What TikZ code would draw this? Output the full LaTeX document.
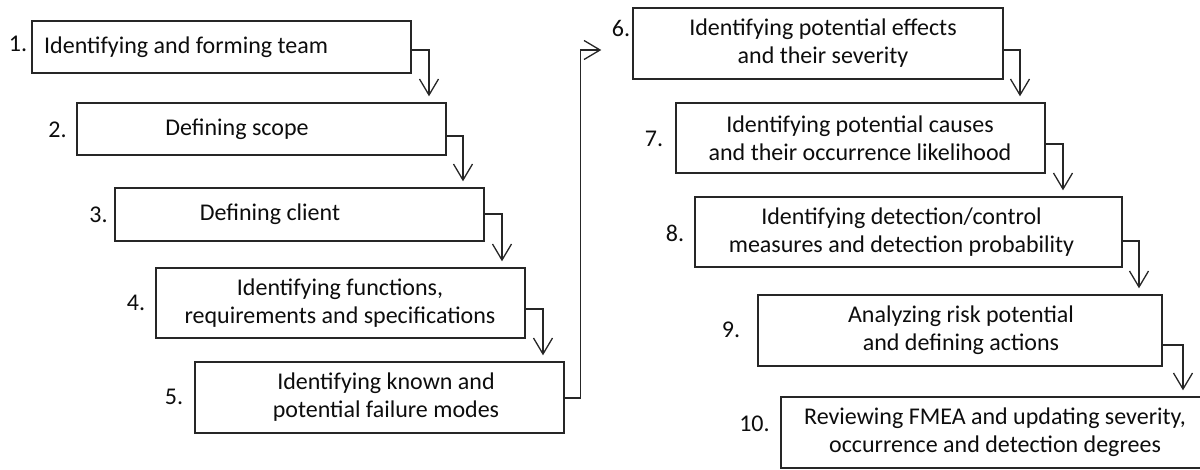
\documentclass[tikz,border=0pt]{standalone}
\usepackage{fontspec}
\setmainfont{Carlito}
\usetikzlibrary{arrows.meta,calc}
\begin{document}
\begin{tikzpicture}[x=1pt,y=-1pt,
  box/.style={draw=black!85,line width=1.4pt,inner sep=0pt,rectangle},
  txt/.style={font=\fontsize{24}{28}\selectfont,align=center,inner sep=0pt,text=black!95},
  num/.style={font=\fontsize{24}{28}\selectfont,anchor=base,inner sep=0pt,text=black!95},
  arr/.style={draw=black!85,line width=1.3pt,-{Straight Barb[length=16pt,width=19pt,line width=1.3pt]}}]
\useasboundingbox (0,0) rectangle (1200,470);
% boxes
\node[box,minimum width=379pt,minimum height=52pt] (b1) at (221.5,47) {};
\node[box,minimum width=369pt,minimum height=52pt] (b2) at (261.5,129) {};
\node[box,minimum width=369pt,minimum height=53pt] (b3) at (299.5,214.5) {};
\node[box,minimum width=369pt,minimum height=70pt] (b4) at (340.5,303) {};
\node[box,minimum width=369pt,minimum height=71pt] (b5) at (379.5,397.5) {};
\node[box,minimum width=370pt,minimum height=71pt] (b6) at (818,43.5) {};
\node[box,minimum width=369pt,minimum height=70pt] (b7) at (860.5,138) {};
\node[box,minimum width=427pt,minimum height=70pt] (b8) at (908.5,232) {};
\node[box,minimum width=404pt,minimum height=71pt] (b9) at (960,330.5) {};
\node[box,minimum width=424pt,minimum height=71pt] (b10) at (993,432.5) {};
% texts
\node[txt,anchor=west] (t1) at (44,47) {Identifying and forming team};
\node[txt] (t2) at (237,129) {Defining scope};
\node[txt] (t3) at (270,214.5) {Defining client};
\node[txt] (t4) at (340,303) {Identifying functions,\\requirements and specifications};
\node[txt] (t5) at (386,397.5) {Identifying known and\\potential failure modes};
\node[txt] (t6) at (823,43.5) {Identifying potential effects\\and their severity};
\node[txt] (t7) at (860,138) {Identifying potential causes\\and their occurrence likelihood};
\node[txt] (t8) at (901.5,232) {Identifying detection/control\\measures and detection probability};
\node[txt] (t9) at (961,330.5) {Analyzing risk potential\\and defining actions};
\node[txt] (t10) at (995,432.5) {Reviewing FMEA and updating severity,\\occurrence and detection degrees};
% numbers
\node[num] (n1) at (18,52) {1.};
\node[num] (n2) at (57.5,138) {2.};
\node[num] (n3) at (98.5,223) {3.};
\node[num] (n4) at (136,311) {4.};
\node[num] (n5) at (174,405) {5.};
\node[num] (n6) at (621,37) {6.};
\node[num] (n7) at (654,147) {7.};
\node[num] (n8) at (675,242) {8.};
\node[num] (n9) at (731,338) {9.};
\node[num] (n10) at (754.5,431) {10.};
% connectors
\draw[arr] (b1.east |- 0,50) -| ($(b2.north -| 429,0)+(0,-6)$);
\draw[arr] (b2.east |- 0,136) -| ($(b3.north -| 463,0)+(0,-6)$);
\draw[arr] (b3.east |- 0,214) -| ($(b4.north -| 502,0)+(0,-6)$);
\draw[arr] (b4.east |- 0,309) -| ($(b5.north -| 543,0)+(0,-6)$);
\draw[arr] (b5.east |- 0,398) -| ($(b6.west |- 0,50)+(-52,0)$) -- ($(b6.west |- 0,50)+(-31,0)$);
\draw[arr] (b6.east |- 0,50) -| ($(b7.north -| 1020,0)+(0,-6)$);
\draw[arr] (b7.east |- 0,144) -| ($(b8.north -| 1063,0)+(0,-6)$);
\draw[arr] (b8.east |- 0,241) -| ($(b9.north -| 1139,0)+(0,-6)$);
\draw[arr] (b9.east |- 0,345) -| ($(b10.north -| 1183,0)+(0,-6)$);
\end{tikzpicture}
\end{document}
